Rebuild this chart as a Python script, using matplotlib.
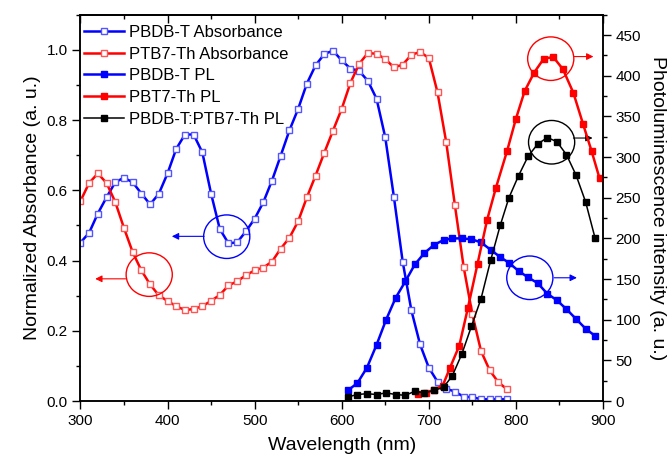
import numpy as np
import matplotlib.pyplot as plt
from matplotlib.patches import Ellipse
from matplotlib.ticker import MultipleLocator

plt.rcParams['font.family'] = ['Liberation Sans', 'DejaVu Sans']

# Absorbance spectra (normalized), 300-790 nm
wl_abs = [300, 310, 320, 330, 340, 350, 360, 370, 380, 390,
          400, 410, 420, 430, 440, 450, 460, 470, 480, 490,
          500, 510, 520, 530, 540, 550, 560, 570, 580, 590,
          600, 610, 620, 630, 640, 650, 660, 670, 680, 690,
          700, 710, 720, 730, 740, 750, 760, 770, 780, 790]
pbdbt_abs = [0.451, 0.479, 0.534, 0.580, 0.623, 0.636, 0.623, 0.591, 0.560, 0.590,
             0.648, 0.718, 0.759, 0.759, 0.708, 0.591, 0.490, 0.449, 0.452, 0.483,
             0.519, 0.566, 0.628, 0.699, 0.771, 0.832, 0.904, 0.956, 0.988, 0.998,
             0.970, 0.947, 0.940, 0.912, 0.861, 0.751, 0.580, 0.397, 0.258, 0.161,
             0.095, 0.055, 0.035, 0.027, 0.012, 0.011, 0.005, 0.005, 0.005, 0.005]
ptb7th_abs = [0.569, 0.621, 0.648, 0.621, 0.567, 0.493, 0.424, 0.372, 0.332, 0.301,
              0.285, 0.270, 0.259, 0.262, 0.270, 0.285, 0.302, 0.329, 0.341, 0.358,
              0.372, 0.380, 0.397, 0.434, 0.465, 0.512, 0.580, 0.642, 0.707, 0.770,
              0.832, 0.906, 0.960, 0.991, 0.989, 0.974, 0.950, 0.958, 0.986, 0.994,
              0.977, 0.879, 0.737, 0.557, 0.382, 0.247, 0.142, 0.087, 0.053, 0.033]

# PL spectra
wl_pl = [607, 618, 629, 640, 651, 662, 673, 684, 695, 706, 717, 727, 738, 749,
         760, 771, 782, 792, 803, 814, 825, 836, 847, 858, 869, 880, 891]
pbdbt_pl = [13, 22, 41, 69, 100, 127, 147, 168, 182, 192, 198, 200, 200, 199,
            195, 186, 177, 170, 160, 152, 145, 132, 124, 113, 101, 89, 80]
blend_pl = [5, 8, 9, 8, 10, 8, 7, 12, 10, 13, 17, 31, 58, 92,
            126, 173, 216, 250, 277, 301, 316, 324, 319, 303, 278, 245, 200]
wl_pl_ptb7 = [688, 697, 706, 716, 724, 735, 745, 756, 767, 777, 790,
              800, 810, 821, 832, 843, 854, 866, 877, 887, 896]
ptb7th_pl = [9, 10, 14, 19, 40, 68, 115, 169, 223, 262, 308,
             347, 381, 404, 421, 423, 408, 379, 341, 307, 274]

fig = plt.figure(figsize=(6.7, 4.62), dpi=100)
ax = fig.add_axes([0.120, 0.132, 0.780, 0.836])
ax2 = ax.twinx()

h1, = ax.plot(wl_abs, pbdbt_abs, color='blue', lw=1.8, marker='s', ms=4.8,
              mfc='white', mec='#5555ff', mew=1.0, label='PBDB-T Absorbance')
h2, = ax.plot(wl_abs, ptb7th_abs, color='red', lw=1.8, marker='s', ms=4.8,
              mfc='white', mec='#ff5555', mew=1.0, label='PTB7-Th Absorbance')
h3, = ax2.plot(wl_pl, pbdbt_pl, color='blue', lw=1.8, marker='s', ms=4.8,
               mfc='blue', mec='blue', label='PBDB-T PL')
h4, = ax2.plot(wl_pl_ptb7, ptb7th_pl, color='red', lw=1.8, marker='s', ms=4.8,
               mfc='red', mec='red', label='PBT7-Th PL')
h5, = ax2.plot(wl_pl, blend_pl, color='black', lw=1.1, marker='s', ms=4.8,
               mfc='black', mec='black', label='PBDB-T:PTB7-Th PL')

ax.set_xlim(300, 900)
ax.set_ylim(0, 1.1)
ax2.set_ylim(0, 475)

ax.xaxis.set_major_locator(MultipleLocator(100))
ax.xaxis.set_minor_locator(MultipleLocator(50))
ax.yaxis.set_major_locator(MultipleLocator(0.2))
ax.yaxis.set_minor_locator(MultipleLocator(0.1))
ax.yaxis.set_major_formatter(plt.FormatStrFormatter('%.1f'))
ax2.yaxis.set_major_locator(MultipleLocator(50))
ax2.yaxis.set_minor_locator(MultipleLocator(25))

for a in (ax, ax2):
    for s in a.spines.values():
        s.set_linewidth(1.1)
    a.tick_params(which='major', direction='out', length=5.5, width=1.0, labelsize=11)
    a.tick_params(which='minor', direction='out', length=3, width=1.0)

# top ticks point inward, no labels
top = ax.secondary_xaxis('top')
top.xaxis.set_major_locator(MultipleLocator(100))
top.xaxis.set_minor_locator(MultipleLocator(50))
top.tick_params(which='major', direction='in', length=5.5, width=1.0, labeltop=False)
top.tick_params(which='minor', direction='in', length=3, width=1.0)
top.spines['top'].set_linewidth(1.1)

ax.set_xlabel('Wavelength (nm)', fontsize=14, labelpad=7)
ax.set_ylabel('Normalized Absorbance (a. u.)', fontsize=14, labelpad=4)
ax2.set_ylabel('Photoluminescence intensity (a. u.)', fontsize=14,
               rotation=270, labelpad=18)

# circles + arrows marking which axis each curve belongs to
marks = [
    ('blue', (468, 0.468), (442, 0.469), (405, 0.469)),
    ('red', (379, 0.360), (352, 0.348), (317, 0.348)),
    ('red', (840, 0.975), (867, 0.981), (889, 0.981)),
    ('black', (841, 0.737), (866, 0.749), (888, 0.749)),
    ('blue', (816, 0.351), (844, 0.351), (870, 0.351)),
]
for c, center, tail, head in marks:
    ax.add_patch(Ellipse(center, 53, 0.124, fill=False, ec=c, lw=1.0, zorder=5))
    ax.annotate('', xy=head, xytext=tail,
                arrowprops=dict(arrowstyle='-|>', color=c, lw=0.8,
                                mutation_scale=10, shrinkA=0, shrinkB=0),
                zorder=5)

ax2.legend(handles=[h1, h2, h3, h4, h5], loc='upper left',
           bbox_to_anchor=(84 / 670, 1 - 25 / 462), bbox_transform=fig.transFigure,
           frameon=False, fontsize=12, handlelength=2.4, handletextpad=0.3,
           labelspacing=0.4, borderpad=0, borderaxespad=0)

fig.savefig('out.png', dpi=100)
